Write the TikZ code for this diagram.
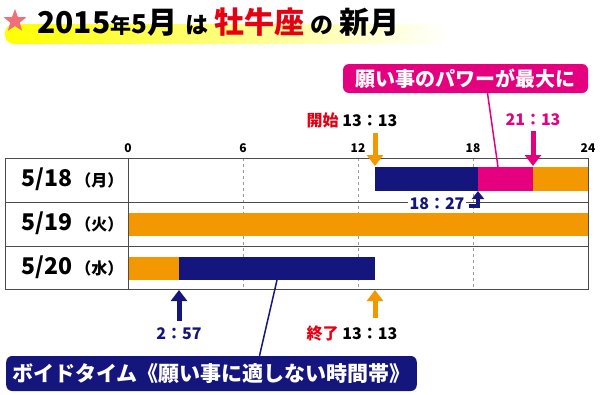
\documentclass[tikz,border=0pt]{standalone}
\usepackage{fontspec}
\setmainfont{Noto Sans CJK JP}
\usetikzlibrary{arrows.meta}

\definecolor{voidblue}{HTML}{15157E}
\definecolor{moonorange}{HTML}{F39800}
\definecolor{wishpink}{HTML}{E4007F}
\definecolor{titlered}{HTML}{E60012}
\definecolor{starpink}{HTML}{F0707A}

\tikzset{
  daylabel/.style={anchor=west, font=\bfseries\fontsize{23}{23}\selectfont},
  hourlabel/.style={font=\bfseries\fontsize{12}{12}\selectfont},
  timelabel/.style={font=\bfseries\fontsize{16}{16}\selectfont, inner sep=2pt},
  callout/.style={rounded corners=6pt, text=white, inner xsep=6pt, inner ysep=4pt},
  blockarrow/.style={line width=5pt, -{Triangle[width=16pt,length=11pt]}},
}
\newcommand{\wday}[1]{\hspace{3pt}{\fontsize{16}{16}\selectfont （#1）}}
\newcommand{\fs}[1]{\fontsize{#1}{#1}\selectfont}

\begin{document}
\begin{tikzpicture}[x=1pt, y=-1pt]
		\useasboundingbox (0,0) rectangle (600,394);
		
		% Title with yellow marker
		\shade[left color=yellow, right color=white, rounded corners=9pt] (5,24) rectangle (450,44);
		\fill[starpink, shift={(15,21)}] (270:12) -- (306:5) -- (342:12) -- (18:5) -- (54:12) -- (90:5)
			-- (126:12) -- (162:5) -- (198:12) -- (234:5) -- cycle;
		\node[anchor=west, font=\bfseries\fs{30}, inner sep=0pt] (title) at (37,22)
			{2015{\fs{21}年}{\fs{26}5}月\hspace{8pt}{\fs{23}は}\hspace{6pt}\textcolor{titlered}{牡牛座}\hspace{6pt}{\fs{23}の}\hspace{6pt}新月};
		
		% Hour scale
		\foreach \h/\x in {0/128, 6/243, 12/358, 18/473, 24/588}
			\node[hourlabel] (hour\h) at (\x,148) {\h};
		\foreach \x in {243, 358, 473}
			\draw[gray!80, dashed] (\x,158) -- (\x,289);
		
		% Bars (drawn before the grid lines)
		% 5/18
		\fill[voidblue] (375,167) rectangle (478,191);
		\fill[wishpink] (478,167) rectangle (533,191);
		\fill[moonorange] (533,167) rectangle (588,191);
		% 5/19
		\fill[moonorange] (128,213) rectangle (588,236);
		% 5/20
		\fill[moonorange] (128,257) rectangle (179,280);
		\fill[voidblue] (179,257) rectangle (375,280);
		
		% Table
		\draw[black!70, line width=0.8pt] (5,158) rectangle (588,289);
		\draw[black!70, line width=0.8pt] (5,202) -- (588,202);
		\draw[black!70, line width=0.8pt] (5,246) -- (588,246);
		\draw[black!70, line width=0.8pt] (128,158) -- (128,289);
		
		% Day labels
		\node[daylabel] (d18) at (18,179) {5/18\wday{月}};
		\node[daylabel] (d19) at (18,223) {5/19\wday{火}};
		\node[daylabel] (d20) at (18,267) {5/20\wday{水}};
		
		% Start of void time
		\node[timelabel] (start) at (352,120) {\textcolor{titlered}{開始} 13：13};
		\coordinate (startbar) at (375,166);
		\draw[blockarrow, moonorange] (375,133) -- (startbar);
		
		% Peak of wishing power
		\node[timelabel, text=wishpink] (peak) at (533,120) {21：13};
		\coordinate (peakbar) at (533,166);
		\draw[blockarrow, wishpink] (peak.south) ++(0,3) -- (peakbar);
		
		% Void time ends on the 18th
		\node[timelabel, text=voidblue, fill=white] (turn) at (437,204) {18：27};
		\coordinate (turnbar) at (478,191);
		\draw[voidblue, line width=4pt, -{Triangle[width=12pt,length=8pt]}] (turn.east) ++(2,2) -| (turnbar);
		
		% Ends on the 20th
		\node[timelabel, text=voidblue] (voidend) at (179,334) {2：57};
		\coordinate (voidendbar) at (179,290);
		\draw[blockarrow, voidblue] (voidend.north) ++(0,-5) -- (voidendbar);
		\node[timelabel] (finish) at (352,334) {\textcolor{titlered}{終了} 13：13};
		\coordinate (finishbar) at (375,290);
		\draw[blockarrow, moonorange] (375,318) -- (finishbar);
		
		% Callouts
		\node[callout, fill=wishpink, font=\bfseries\fs{20}, minimum width=245pt, minimum height=29pt] (power) at (465.5,78.5) {願い事のパワーが最大に};
		\coordinate (powerbar) at (498,167);
		\draw[wishpink, line width=1.5pt] (power.south) ++(22,0) -- (powerbar);
		
		\node[callout, fill=voidblue, font=\bfseries\fs{21}, minimum width=395pt, minimum height=35pt] (void) at (211.5,373.5) {ボイドタイム《願い事に適しない時間帯》};
		\coordinate (voidbar) at (277,280);
		\draw[voidblue, line width=1.5pt] (void.north) ++(48,0) -- (voidbar);
		
	\end{tikzpicture}
\end{document}
